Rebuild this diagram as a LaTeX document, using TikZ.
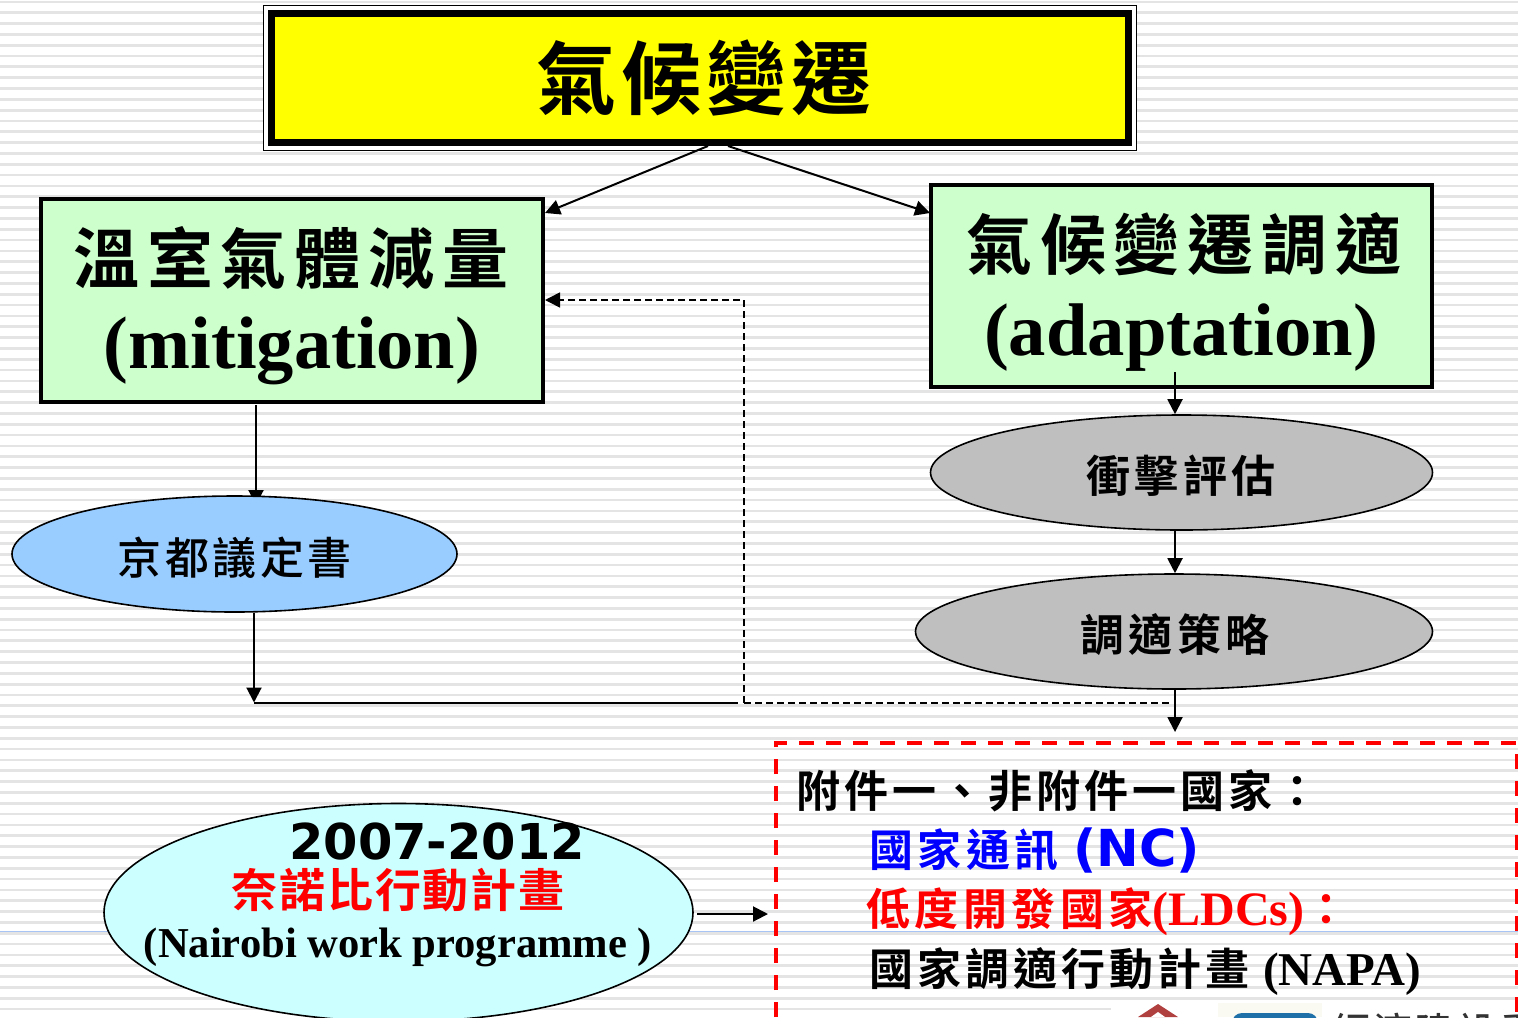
\documentclass[tikz,border=0pt]{standalone}
\usepackage{fontspec}
\usetikzlibrary{arrows.meta,shapes.geometric}
\setmainfont{Liberation Serif}
\newfontfamily\cjk[LetterSpace=6]{Noto Sans CJK TC Bold}
\newfontfamily\cjkm[LetterSpace=6]{Noto Sans CJK TC Medium}
\newfontfamily\hsans{DejaVu Sans}
\definecolor{paleG}{HTML}{CCFFCC}
\definecolor{grayE}{HTML}{BFBFBF}
\definecolor{blueE}{HTML}{99CCFF}
\definecolor{cyanE}{HTML}{CCFFFF}
\definecolor{titleY}{HTML}{FFFF00}
\definecolor{stripeG}{HTML}{E4E4E4}
\definecolor{hair}{HTML}{A8C4F4}
\definecolor{pureR}{HTML}{FF0000}
\definecolor{pureB}{HTML}{0000FF}
\definecolor{roof}{HTML}{B04040}
\definecolor{logoB}{HTML}{1F6FA8}
\definecolor{logoBg}{HTML}{FBFAF2}
\tikzset{
  x=0.5pt,y=-0.5pt,
  tip/.style={-{Triangle[length=7.5pt,width=7.5pt]}},
  conn/.style={draw=black,line width=1pt,tip},
  plainc/.style={draw=black,line width=1pt},
  dashc/.style={draw=black,line width=0.8pt,dash pattern=on 3.5pt off 2pt},
  greenbox/.style={draw=black,line width=2pt,fill=paleG,inner sep=0,anchor=north west},
  oval/.style={ellipse,draw=black,line width=0.8pt,inner sep=0},
  txt/.style={inner sep=0,anchor=center,text=black},
  ltxt/.style={inner sep=0,anchor=west,text=black},
}
\newcommand{\fs}[1]{\fontsize{#1}{#1}\selectfont}
\begin{document}
\begin{tikzpicture}
\useasboundingbox (0,0) rectangle (1518,1017);
\fill[white] (0,0) rectangle (1518,1017);
\foreach \k in {0,...,93}{
  \fill[stripeG] (0,{0.5+10.83*\k}) rectangle (1518,{3.2+10.83*\k});
}
\draw[color=hair,line width=0.8pt] (0,931.5) -- (1518,931.5);

% logo fragments
\fill[white] (1111,1003) rectangle (1518,1017);
\fill[logoBg] (1218,1003) rectangle (1322,1017);
\fill[roof] (1158,1004) -- (1178,1017) -- (1138,1017) -- cycle;
\fill[white] (1158,1012) -- (1165,1017) -- (1151,1017) -- cycle;
\fill[logoB,rounded corners=5pt] (1232,1013) rectangle (1318,1030);
\begin{scope}
\clip (1320,1003) rectangle (1518,1017);
\node[ltxt,text=black!80] (logotext) at (1332,1031) {\cjkm\fs{19}\addfontfeature{LetterSpace=10}經濟建設委};
\end{scope}

% title
\node[draw=black,line width=0.7pt,fill=white,minimum width=436.5pt,minimum height=72.5pt,inner sep=0] (outer) at (700,78) {};
\node[draw=black,line width=3.5pt,fill=titleY,minimum width=428.5pt,minimum height=64.5pt,inner sep=0] (title) at (700,78) {};
\node[txt] (titletext) at (704,78) {\cjk\fs{40}氣候變遷};

% green boxes
\node[greenbox,minimum width=251pt,minimum height=101.5pt] (mit) at (39,196.5) {};
\node[txt] (mit1) at (291,258) {\cjk\fs{33}\addfontfeature{LetterSpace=12}溫室氣體減量};
\node[txt] (mit2) at (292,351) {\bfseries\fs{37.2}(mitigation)};
\node[greenbox,minimum width=250.5pt,minimum height=101pt] (ada) at (929,182.5) {};
\node[txt] (ada1) at (1184,244) {\cjk\fs{33}\addfontfeature{LetterSpace=12}氣候變遷調適};
\node[txt] (ada2) at (1181,337.5) {\bfseries\fs{37.3}(adaptation)};

% connector hidden behind the blue ellipse
\coordinate (ms) at (256,405);
\coordinate (ke) at (256,505);
\path[conn] (ms) -- (ke);

% ellipses
\node[oval,fill=blueE,minimum width=222.5pt,minimum height=58pt] (kyoto) at (234.5,554) {};
\node[txt] (kyototext) at (235,558) {\cjkm\fs{22}\addfontfeature{LetterSpace=8}京都議定書};
\node[oval,fill=grayE,minimum width=251pt,minimum height=57.5pt] (impact) at (1181.5,472.5) {};
\node[txt] (impacttext) at (1181,476) {\cjk\fs{22}\addfontfeature{LetterSpace=10}衝擊評估};
\node[oval,fill=grayE,minimum width=258.5pt,minimum height=57.5pt] (strat) at (1174,631.5) {};
\node[txt] (strattext) at (1175,635) {\cjk\fs{22}\addfontfeature{LetterSpace=10}調適策略};
\node[oval,fill=cyanE,minimum width=294.5pt,minimum height=109pt] (nairobi) at (398.5,912.5) {};
\node[txt] (n1) at (437,842) {\hsans\bfseries\fs{24.7}2007-2012};
\node[txt,text=pureR] (n2) at (398,890) {\cjk\fs{23}\addfontfeature{LetterSpace=4}奈諾比行動計畫};
\node[txt] (n3) at (398,947) {\bfseries\fs{21.3}(Nairobi work programme )};

% red dashed frame
\coordinate (ftl) at (776,743);
\coordinate (ftr) at (1517,743);
\coordinate (fbl) at (776,1017);
\coordinate (fbr) at (1517,1017);
\draw[pureR,line width=1.7pt,dash pattern=on 7.5pt off 6pt] (fbl) -- (ftl) -- (ftr) -- (fbr);

% frame text
\node[ltxt] (a1) at (796,791) {\cjk\fs{22}\addfontfeature{LetterSpace=9}附件一、非附件一國家：};
\node[ltxt,text=pureB] (a2) at (869,850) {\cjk\fs{22}\addfontfeature{LetterSpace=10}國家通訊 {\hsans\bfseries\fs{25.5}\addfontfeature{LetterSpace=0}(NC)}};
\node[ltxt,text=pureR] (a3) at (866,912) {\cjk\fs{22}\addfontfeature{LetterSpace=10}低度開發國家{\rmfamily\bfseries\fs{24}(LDCs)}：};
\node[ltxt] (a4) at (869,971) {\cjk\fs{22}\addfontfeature{LetterSpace=9}國家調適行動計畫 {\rmfamily\bfseries\fs{23.5}(NAPA)}};

% connectors
\coordinate (tl) at (708,146);
\coordinate (tr) at (728,146);
\coordinate (ml) at (545,213);
\coordinate (ar) at (930,213);
\path[conn] (tl) -- (ml);
\path[conn] (tr) -- (ar);
\coordinate (as) at (1175,372);
\path[conn] (as) -- (impact.north -| as);
\path[conn] (impact.south -| as) -- (strat.north -| as);
\coordinate (sb) at (1175,732);
\path[conn] (strat.south -| sb) -- (sb);
\coordinate (j1) at (254,702.5);
\coordinate (j2) at (738,702.5);
\coordinate (j3) at (744,703);
\coordinate (j4) at (1171,703);
\coordinate (j5) at (744,300);
\coordinate (me) at (545,300);
\path[conn] (kyoto.south -| j1) -- (j1);
\path[plainc] (j1) -- (j2);
\path[dashc] (j3) -- (j4);
\path[dashc,tip] (j3) -- (j5) -- (me);
\coordinate (ne) at (697,914);
\coordinate (fe) at (768,914);
\path[conn] (ne) -- (fe);
\end{tikzpicture}
\end{document}
